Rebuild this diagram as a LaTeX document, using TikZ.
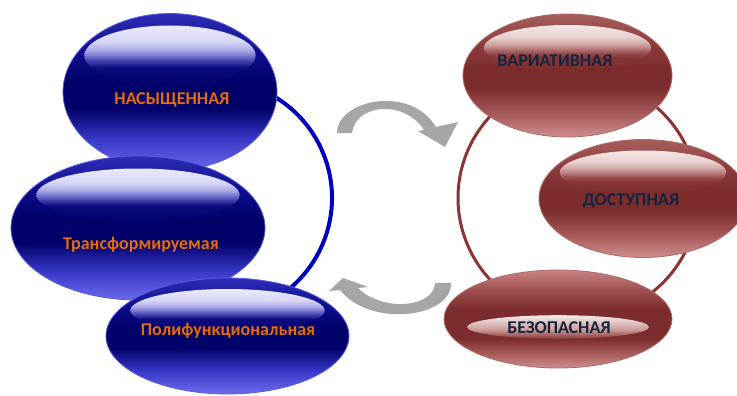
\documentclass[tikz,border=0pt]{standalone}
\usepackage{fontspec}
\setmainfont{Carlito}
\usetikzlibrary{shapes.geometric}
% blue glass stops (bottom -> top)
\definecolor{bb0}{RGB}{108,108,236}
\definecolor{bb1}{RGB}{55,55,200}
\definecolor{bb2}{RGB}{0,0,104}
\definecolor{bb3}{RGB}{14,14,140}
\definecolor{bb4}{RGB}{45,45,185}
\definecolor{bh1}{RGB}{234,234,252}
\definecolor{bh2}{RGB}{215,215,247}
\definecolor{bh3}{RGB}{175,175,232}
\definecolor{bh4}{RGB}{120,120,210}
\definecolor{bh5}{RGB}{60,60,170}
\definecolor{bhm}{RGB}{12,12,128}
\definecolor{brim}{RGB}{90,90,220}
% red glass stops (bottom -> top)
\definecolor{rr0}{RGB}{206,142,142}
\definecolor{rr1}{RGB}{165,86,86}
\definecolor{rr2}{RGB}{124,44,44}
\definecolor{rr3}{RGB}{140,60,60}
\definecolor{rr4}{RGB}{168,94,94}
\definecolor{rp4}{RGB}{200,132,132}
\definecolor{rp3}{RGB}{160,80,80}
\definecolor{rh1}{RGB}{245,232,232}
\definecolor{rh2}{RGB}{232,208,208}
\definecolor{rh3}{RGB}{210,170,170}
\definecolor{rh4}{RGB}{185,128,128}
\definecolor{rh5}{RGB}{155,80,80}
\definecolor{rhm}{RGB}{134,54,54}
\definecolor{rmt}{RGB}{244,236,236}
\definecolor{rmm}{RGB}{205,155,155}
\definecolor{rmb}{RGB}{135,55,55}
\definecolor{rrim}{RGB}{175,105,105}
\definecolor{barc}{RGB}{0,0,195}
\definecolor{rarc}{RGB}{140,52,52}
\definecolor{agray}{RGB}{166,166,166}
\definecolor{otext}{RGB}{228,108,10}
\definecolor{ntext}{RGB}{22,36,62}
\pgfdeclareverticalshading{blueglass}{100bp}{color(0bp)=(bb0); color(25bp)=(bb0); color(35bp)=(bb1); color(45bp)=(bb2); color(53bp)=(bb2); color(63bp)=(bb3); color(75bp)=(bb4); color(100bp)=(bb4)}
\pgfdeclareverticalshading{redglass}{100bp}{color(0bp)=(rr0); color(25bp)=(rr0); color(35bp)=(rr1); color(45bp)=(rr2); color(53bp)=(rr2); color(63bp)=(rr3); color(75bp)=(rr4); color(100bp)=(rr4)}
\pgfdeclareverticalshading{redglassb}{100bp}{color(0bp)=(rr0); color(25bp)=(rr0); color(33bp)=(rr1); color(40bp)=(rr2); color(55bp)=(rr2); color(65bp)=(rp3); color(75bp)=(rp4); color(100bp)=(rp4)}
\pgfdeclareverticalshading{bluehl}{100bp}{color(0bp)=(bb2); color(25bp)=(bb2); color(40bp)=(bhm); color(45bp)=(bh5); color(50bp)=(bh4); color(55bp)=(bh3); color(62bp)=(bh2); color(75bp)=(bh1); color(100bp)=(bh1)}
\pgfdeclareverticalshading{redhl}{100bp}{color(0bp)=(rr2); color(25bp)=(rr2); color(40bp)=(rhm); color(45bp)=(rh5); color(50bp)=(rh4); color(55bp)=(rh3); color(62bp)=(rh2); color(75bp)=(rh1); color(100bp)=(rh1)}
\pgfdeclareverticalshading{redmid}{100bp}{color(0bp)=(rmb); color(25bp)=(rmb); color(45bp)=(rmm); color(75bp)=(rmt); color(100bp)=(rmt)}
\tikzset{
  blueball/.style={ellipse, inner sep=0pt, draw=brim, line width=0.8pt, shading=blueglass},
  redball/.style={ellipse, inner sep=0pt, draw=rrim, line width=0.8pt, shading=redglass},
  redballmid/.style={ellipse, inner sep=0pt, draw=rrim, line width=0.8pt, shading=redglassb},
  bluegloss/.style={shading=bluehl},
  redgloss/.style={shading=redhl},
  redinner/.style={shading=redmid},
  btxt/.style={anchor=base, inner sep=0pt, text=otext, font=\fontsize{18}{20}\selectfont\bfseries},
  rtxt/.style={anchor=base, inner sep=0pt, text=ntext, font=\fontsize{18}{20}\selectfont\bfseries},
  ring/.style={line width=#1},
  curvedarrow/.style={fill=agray}
}
\begin{document}
\begin{tikzpicture}[x=1pt,y=-1pt]
\useasboundingbox (0,0) rectangle (737,396);
\fill[white] (0,0) rectangle (737,396);
% rings behind the ellipses
\coordinate (bc) at (214,198);
\coordinate (rc) at (578,198);
\draw[barc, ring=4pt] (bc) ++(-70:118) arc [start angle=-70, end angle=70, radius=118];
\draw[rarc, ring=3pt] (rc) circle [radius=120];
% left (blue) group
\node[blueball, minimum width=214pt, minimum height=157pt] (n1) at (170,92) {};
\shade[bluegloss] (170,55.5) ellipse [x radius=85.6, y radius=30];
\node[blueball, minimum width=254pt, minimum height=144pt] (n2) at (138,228) {};
\shade[bluegloss] (138,195) ellipse [x radius=101.6, y radius=26.5];
\node[blueball, minimum width=243pt, minimum height=116pt] (n3) at (227.5,336) {};
\shade[bluegloss] (227.5,310.5) ellipse [x radius=97.2, y radius=21.5];
\node[btxt] (t1) at (172,105) {НАСЫЩЕННАЯ};
\node[btxt] (t2) at (141,249) {Трансформируемая};
\node[btxt] (t3) at (228,335) {Полифункциональная};
% right (red) group
\node[redball, minimum width=209pt, minimum height=123pt] (r1) at (567.5,75.5) {};
\shade[redgloss] (567.5,48) ellipse [x radius=83.6, y radius=23];
\node[redball, minimum width=208pt, minimum height=118pt] (r2) at (643,198.5) {};
\shade[redgloss] (643,172.5) ellipse [x radius=83.2, y radius=22];
\node[redballmid, minimum width=228pt, minimum height=98pt] (r3) at (558,319) {};
\shade[redinner] (558,327) ellipse [x radius=91, y radius=11.8];
\node[rtxt] (t4) at (555,66.5) {ВАРИАТИВНАЯ};
\node[rtxt] (t5) at (631,205) {ДОСТУПНАЯ};
\node[rtxt] (t6) at (559,333) {БЕЗОПАСНАЯ};
% gray curved arrows
\fill[curvedarrow] (337,133) .. controls (337,100) and (410,84) .. (436,127)
  -- (458,122) -- (445,147) -- (418,131) -- (424,130)
  .. controls (405,100) and (356,103) .. (352,133) -- cycle;
\fill[curvedarrow] (451,283) .. controls (452,318) and (370,328) .. (340,290)
  -- (329,291) -- (343,278) -- (368,287) -- (358,288)
  .. controls (382,312) and (434,308) .. (435,283) -- cycle;
\end{tikzpicture}
\end{document}
